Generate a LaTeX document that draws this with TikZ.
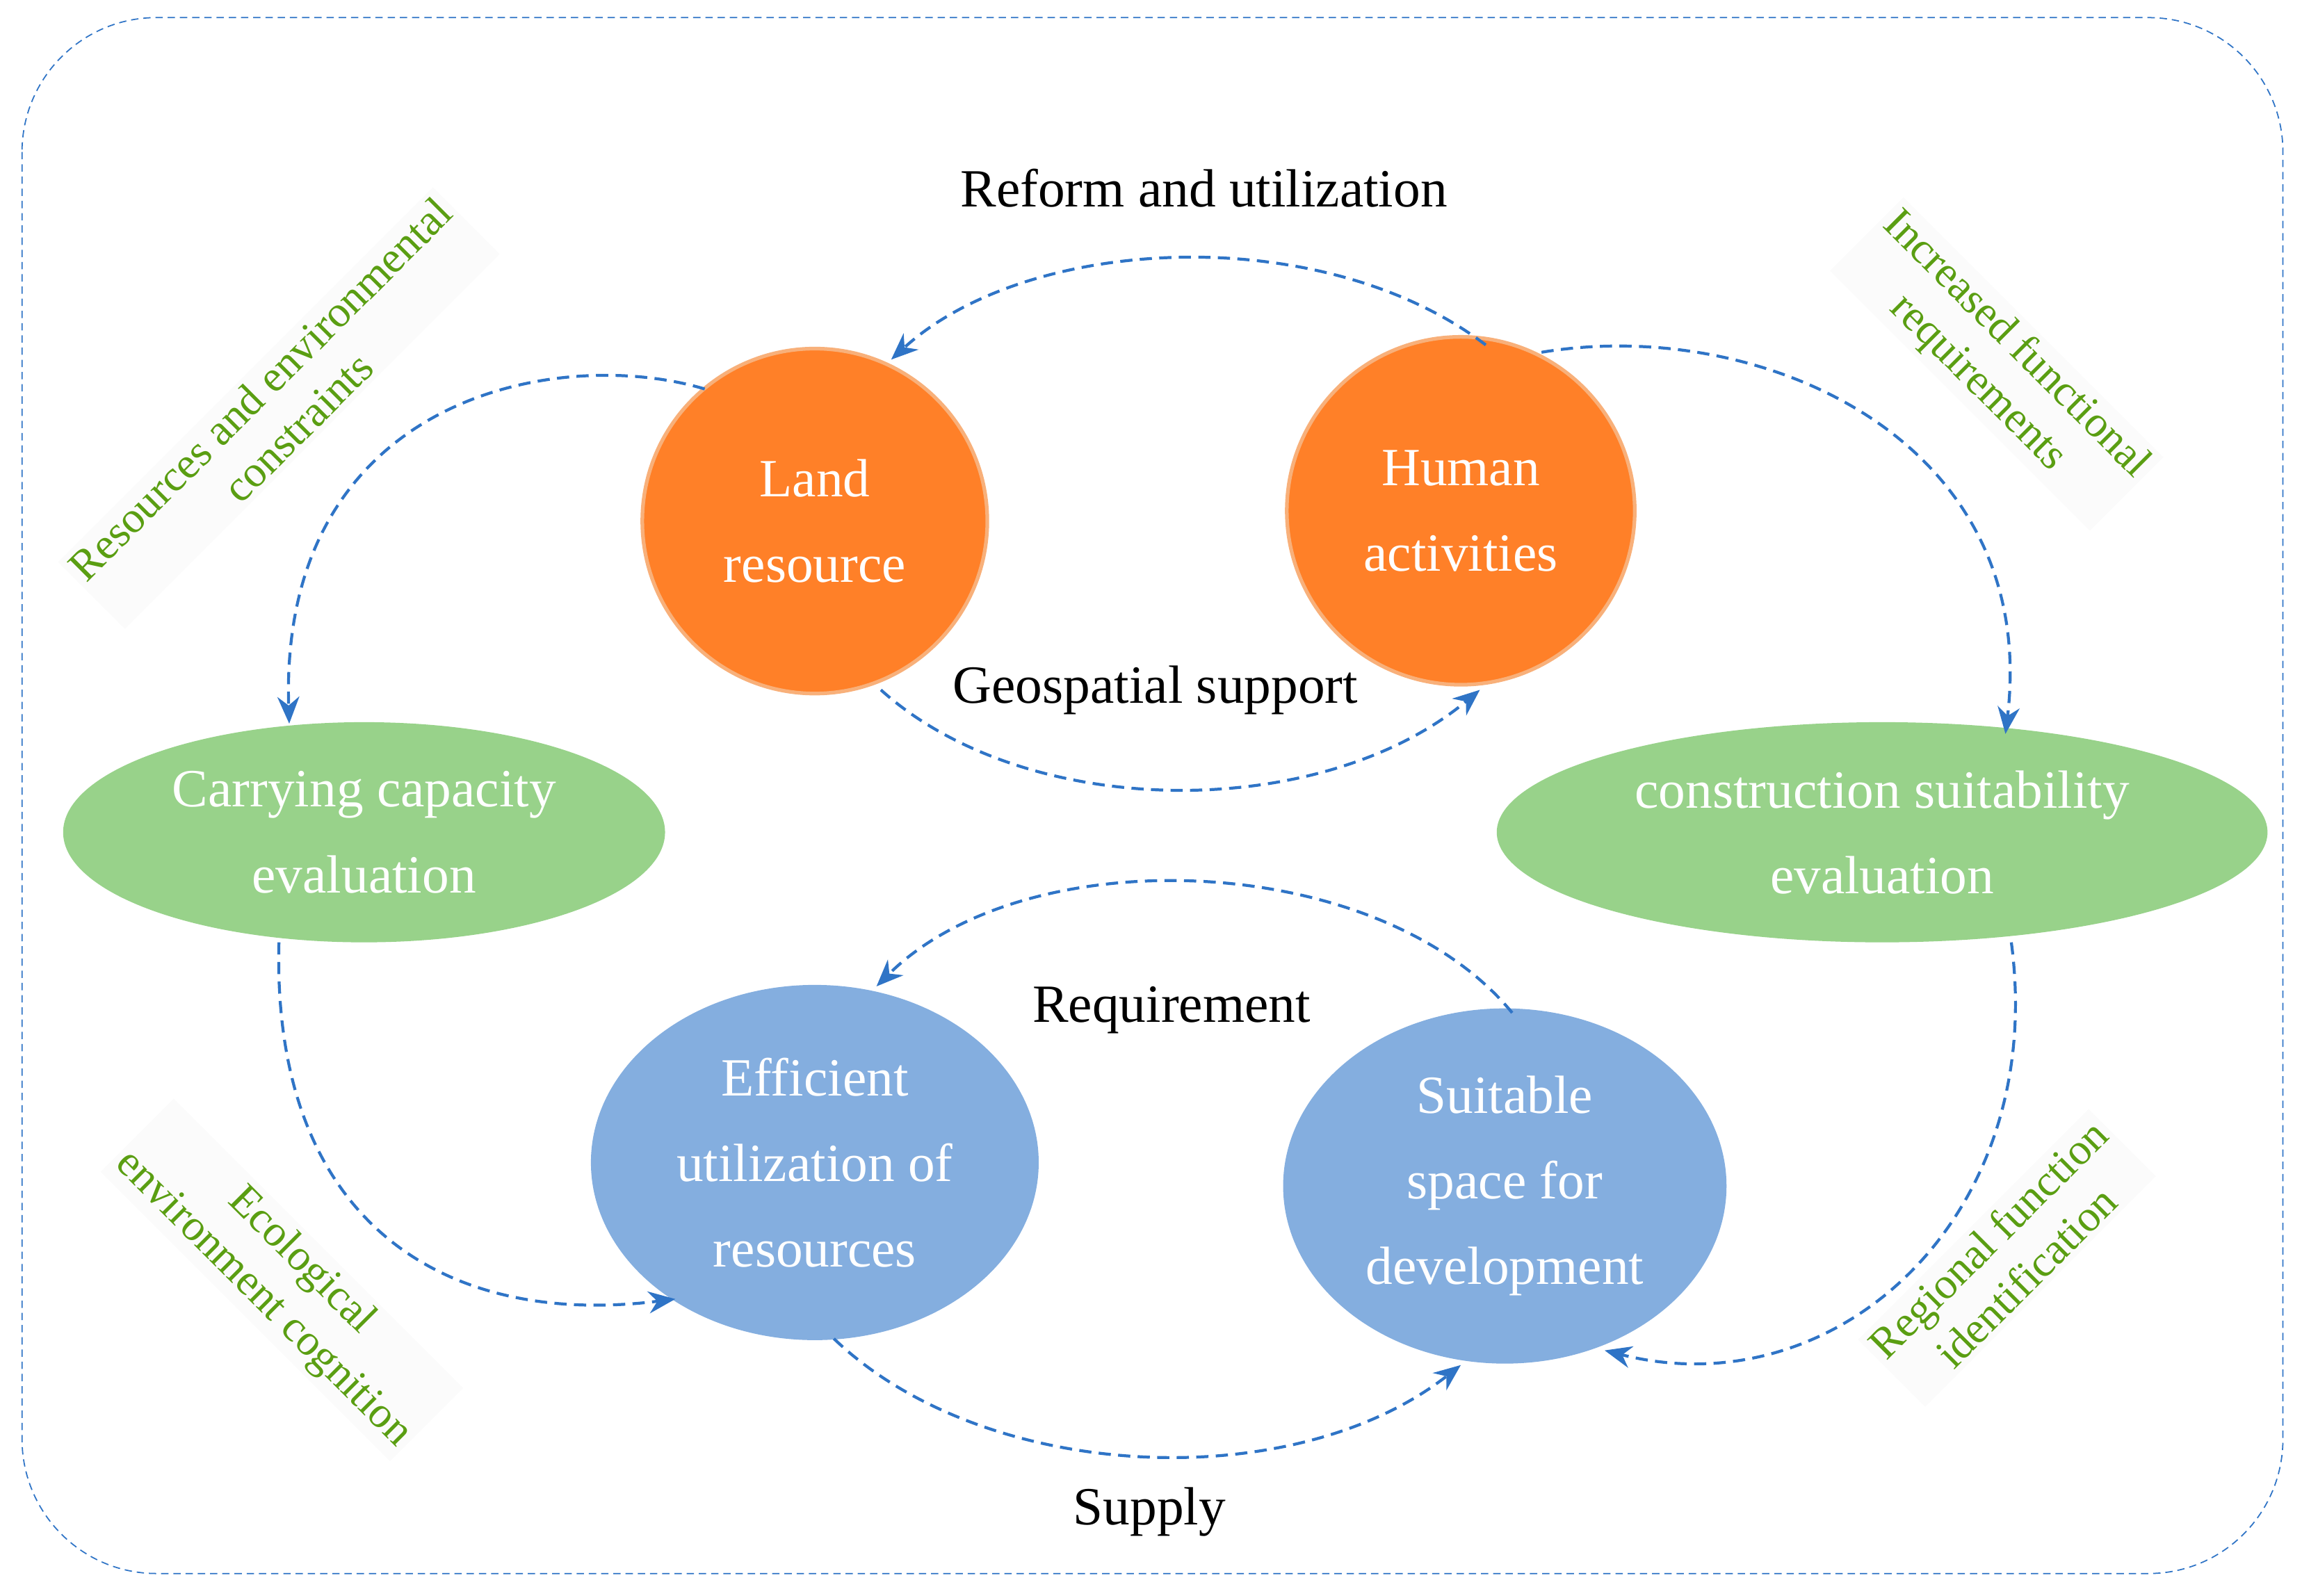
\documentclass[tikz,border=0pt]{standalone}
\usepackage{fontspec}
\setmainfont{Liberation Serif}
\usetikzlibrary{arrows.meta,shapes.geometric}
\definecolor{org}{HTML}{FF8028}
\definecolor{orgb}{HTML}{F8B07A}
\definecolor{grn}{HTML}{98D28A}
\definecolor{blu}{HTML}{84AEDF}
\definecolor{arr}{HTML}{2F74C6}
\definecolor{lab}{HTML}{5A9E12}
\begin{document}
\begin{tikzpicture}[x=0.2111mm,y=-0.2111mm,
  circ/.style={circle,fill=org,draw=orgb,line width=1.5pt,minimum size=#1,text=white,font=\fontsize{22}{35}\selectfont,align=center},
  gell/.style={ellipse,fill=grn,text=white,font=\fontsize{22}{35}\selectfont,align=center,inner sep=0pt},
  bell/.style={ellipse,fill=blu,text=white,font=\fontsize{22}{35}\selectfont,align=center,inner sep=0pt},
  da/.style={dashed,arr,line width=1.2pt,dash pattern=on 5pt off 3pt,-{Stealth[length=11pt,width=9pt]}},
  bl/.style={font=\fontsize{22}{26}\selectfont,text=black},
  gl/.style={font=\fontsize{18}{22}\selectfont,text=lab,align=center,fill=gray!3,inner sep=2pt}]
\useasboundingbox (0,0) rectangle (1568,1087);
\draw[arr,densely dashed,line width=0.5pt,rounded corners=55pt] (15,12) rectangle (1555,1072);
\node[circ=235*0.2111mm] (land) at (555,355) {Land\\resource};
\node[circ=237*0.2111mm] (human) at (995,348) {Human\\activities};
\node[gell,minimum width=410*0.2111mm,minimum height=150*0.2111mm] (carry) at (248,567) {Carrying capacity\\evaluation};
\node[gell,minimum width=525*0.2111mm,minimum height=150*0.2111mm] (cons) at (1282,567) {construction suitability\\evaluation};
\node[bell,minimum width=305*0.2111mm,minimum height=242*0.2111mm] (eff) at (555,792) {Efficient\\utilization of\\resources};
\node[bell,minimum width=302*0.2111mm,minimum height=242*0.2111mm] (suit) at (1025,808) {Suitable\\space for\\development};
\coordinate (a1) at (1012,235); \coordinate (a2) at (607,245);
\draw[da] (a1) .. controls (900,150) and (700,160) .. (a2);
\coordinate (b1) at (600,470); \coordinate (b2) at (1008,470);
\draw[da] (b1) .. controls (700,560) and (900,560) .. (b2);
\coordinate (c1) at (480,265); \coordinate (c2) at (197,493);
\draw[da] (c1) .. controls (380,235) and (190,270) .. (c2);
\coordinate (d1) at (1050,240); \coordinate (d2) at (1366,500);
\draw[da] (d1) .. controls (1200,215) and (1390,300) .. (d2);
\coordinate (e1) at (190,642); \coordinate (e2) at (460,885);
\draw[da] (e1) .. controls (185,830) and (300,905) .. (e2);
\coordinate (f1) at (1030,690); \coordinate (f2) at (597,672);
\draw[da] (f1) .. controls (940,580) and (700,570) .. (f2);
\coordinate (g1) at (568,912); \coordinate (g2) at (995,930);
\draw[da] (g1) .. controls (670,1010) and (880,1020) .. (g2);
\coordinate (h1) at (1370,642); \coordinate (h2) at (1093,920);
\draw[da] (h1) .. controls (1395,830) and (1250,960) .. (h2);
\node[bl] (t1) at (820,128) {Reform and utilization};
\node[bl] (t2) at (787,470) {Geospatial support};
\node[bl,fill=white] (t3) at (798,688) {Requirement};
\node[bl] (t4) at (783,1030) {Supply};
\node[gl,rotate=45] (g1l) at (190,278) {Resources and environmental\\constraints};
\node[gl,rotate=-45] (g2l) at (1360,248) {Increased functional\\requirements};
\node[gl,rotate=-45] (g3l) at (192,872) {Ecological\\environment cognition};
\node[gl,rotate=45] (g4l) at (1367,857) {Regional function\\identification};
\end{tikzpicture}
\end{document}
